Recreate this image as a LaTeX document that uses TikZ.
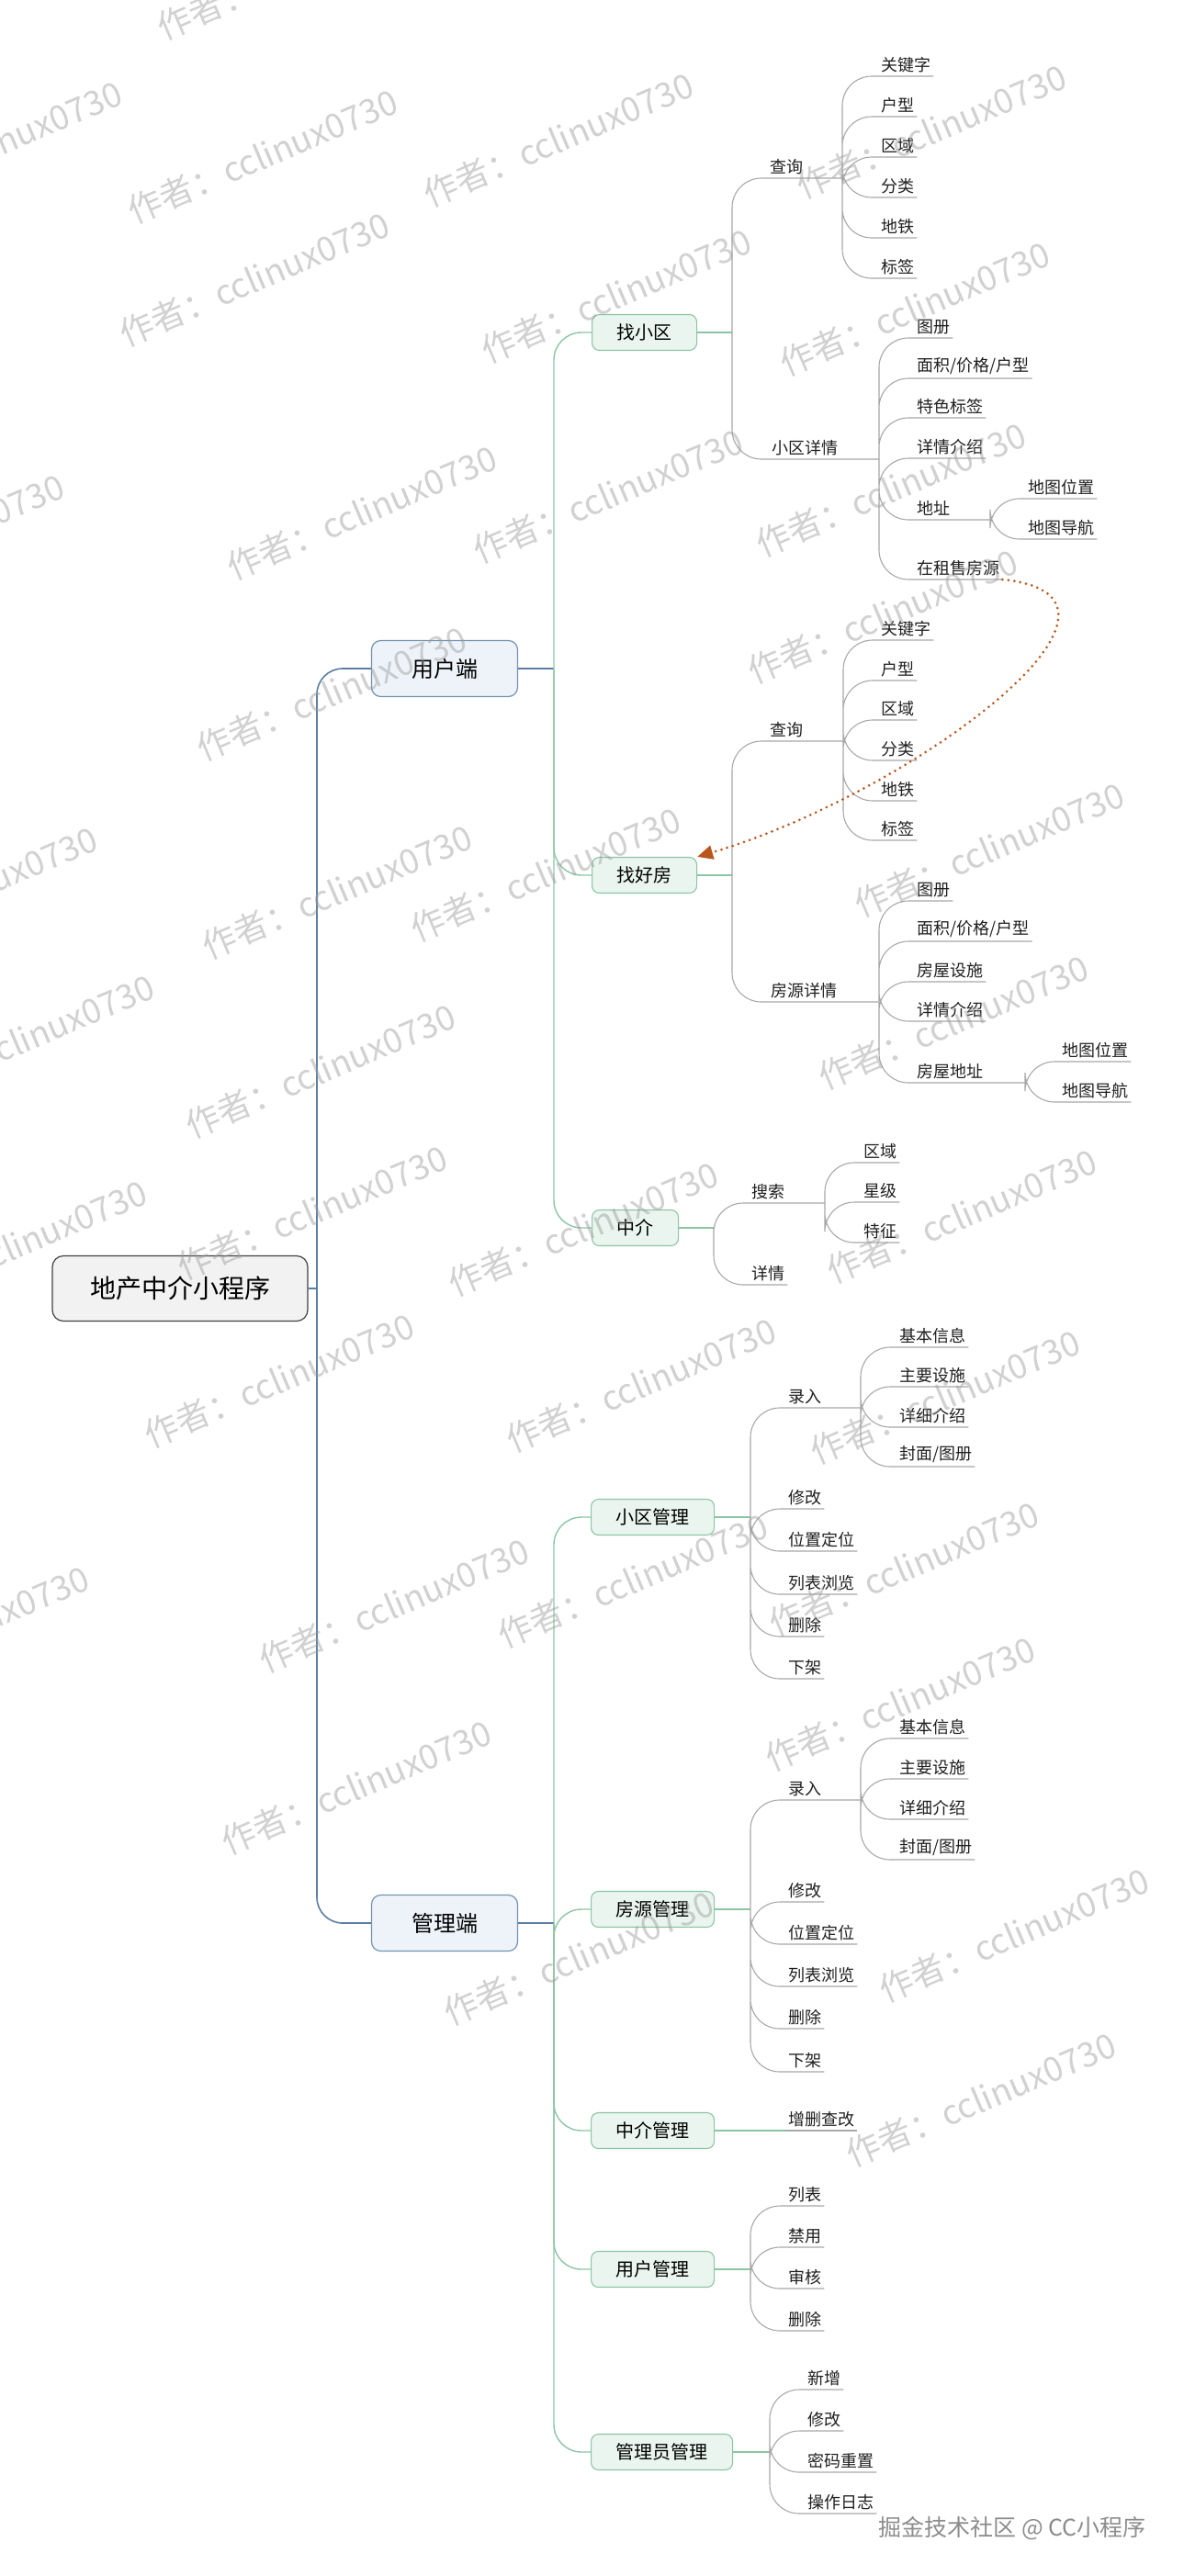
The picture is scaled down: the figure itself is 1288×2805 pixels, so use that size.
\documentclass[tikz,border=0pt]{standalone}
\usepackage{fontspec}
\setmainfont{Noto Sans CJK SC}
\usepackage{tikz}
\usetikzlibrary{arrows.meta, positioning}
\definecolor{trunkblue}{HTML}{5B7FA3}
\definecolor{boxblue}{HTML}{EEF3F9}
\definecolor{branchgreen}{HTML}{8CC5A4}
\definecolor{boxgreen}{HTML}{E9F5EE}
\definecolor{twiggray}{HTML}{A8A8A8}
\definecolor{linkorange}{HTML}{B9561B}
\definecolor{markgray}{HTML}{9A9A9A}
\tikzstyle{rootbox} = [rectangle, rounded corners=12pt, draw=black!75, fill=black!5, line width=1.2pt, minimum width=278pt, minimum height=71pt, font=\fontsize{28}{30}\selectfont]
\tikzstyle{mainbox} = [rectangle, rounded corners=10pt, draw=trunkblue!85, fill=boxblue, line width=1.2pt, minimum width=159pt, minimum height=61pt, font=\fontsize{24}{26}\selectfont]
\tikzstyle{subbox} = [rectangle, rounded corners=8pt, draw=branchgreen, fill=boxgreen, line width=1.1pt, minimum height=39pt, inner xsep=27pt, anchor=west, font=\fontsize{20}{22}\selectfont]
\tikzstyle{leaf} = [anchor=south west, inner xsep=3pt, inner ysep=4pt, text=black!88]
\tikzstyle{trunk} = [draw=trunkblue, line width=1.6pt, rounded corners=28pt]
\tikzstyle{branch} = [draw=branchgreen, line width=1.4pt, rounded corners=30pt]
\tikzstyle{twig} = [draw=twiggray, line width=1.1pt, rounded corners=32pt]
\tikzstyle{relation} = [draw=linkorange, line width=3pt, line cap=round, dash pattern=on 0pt off 6.5pt, -{Triangle[length=17pt, width=15pt, fill=linkorange]}]
\tikzstyle{watermark} = [text=markgray, text opacity=0.45, rotate=23, font=\fontsize{37}{39}\selectfont]
\tikzset{
  font={\fontsize{18pt}{20}\selectfont}}

\begin{document}
\begin{tikzpicture}[x=1pt, y=-1pt]
    \useasboundingbox (0,0) rectangle (1288,2805);

    \node (root) [rootbox] at (196,1403) {地产中介小程序};
    \node (user) [mainbox] at (484,728) {用户端};
    \node (admin) [mainbox] at (484,2094) {管理端};
    \coordinate (hub) at (345,1403);
    \draw [trunk] (root.east) -- (hub);
    \draw [trunk] (hub) |- (user.west);
    \draw [trunk] (hub) |- (admin.west);

    \node (findcomm) [subbox] at (644,362) {找小区};
    \node (findhouse) [subbox] at (644,953) {找好房};
    \node (agent) [subbox] at (644,1337) {中介};
    \coordinate (userhub) at (603,728);
    \draw [trunk] (user.east) -- (userhub);
    \draw [branch] (userhub) |- (findcomm.west);
    \draw [branch] (userhub) |- (findhouse.west);
    \draw [branch] (userhub) |- (agent.west);

    % 找小区
    \coordinate (fchub) at (797,362);
    \draw [branch] (findcomm.east) -- (fchub);
    \node (fcquery) [leaf] at (835,194) {查询};
    \node (fcdetail) [leaf] at (837,500) {小区详情};
    \coordinate (fcq) at (917,194);
    \coordinate (fcd) at (957,500);
    \draw [twig] (fchub) |- (fcq);
    \draw [twig] (fchub) |- (fcd);
    \node (fckey) [leaf] at (956,83) {关键字};
    \node (fctype) [leaf] at (956,127) {户型};
    \node (fcarea) [leaf] at (956,171) {区域};
    \node (fccat) [leaf] at (956,215) {分类};
    \node (fcmetro) [leaf] at (956,259) {地铁};
    \node (fctag) [leaf] at (956,303) {标签};
    \draw [twig] (fcq) |- (fckey.south east) (fcq) |- (fctype.south east)
                 (fcq) |- (fcarea.south east) (fcq) |- (fccat.south east)
                 (fcq) |- (fcmetro.south east) (fcq) |- (fctag.south east);
    \node (fcalbum) [leaf] at (995,368) {图册};
    \node (fcsize) [leaf] at (995,412) {面积/价格/户型};
    \node (fcfeature) [leaf] at (995,455) {特色标签};
    \node (fcintro) [leaf] at (995,499) {详情介绍};
    \node (fcaddr) [leaf] at (995,566) {地址};
    \node (fcsale) [leaf] at (995,631) {在租售房源};
    \coordinate (fca) at (1078,566);
    \draw [twig] (fcd) |- (fcalbum.south east) (fcd) |- (fcsize.south east)
                 (fcd) |- (fcfeature.south east) (fcd) |- (fcintro.south east)
                 (fcd) |- (fca) (fcd) |- (fcsale.south east);
    \node (fcmappos) [leaf] at (1116,543) {地图位置};
    \node (fcmapnav) [leaf] at (1116,587) {地图导航};
    \draw [twig] (fca) |- (fcmappos.south east) (fca) |- (fcmapnav.south east);

    % 找好房
    \coordinate (fhhub) at (797,953);
    \draw [branch] (findhouse.east) -- (fhhub);
    \node (fhquery) [leaf] at (835,807) {查询};
    \node (fhdetail) [leaf] at (836,1091) {房源详情};
    \coordinate (fhq) at (918,807);
    \coordinate (fhd) at (957,1091);
    \draw [twig] (fhhub) |- (fhq);
    \draw [twig] (fhhub) |- (fhd);
    \node (fhkey) [leaf] at (956,697) {关键字};
    \node (fhtype) [leaf] at (956,741) {户型};
    \node (fharea) [leaf] at (956,784) {区域};
    \node (fhcat) [leaf] at (956,828) {分类};
    \node (fhmetro) [leaf] at (956,872) {地铁};
    \node (fhtag) [leaf] at (956,915) {标签};
    \draw [twig] (fhq) |- (fhkey.south east) (fhq) |- (fhtype.south east)
                 (fhq) |- (fharea.south east) (fhq) |- (fhcat.south east)
                 (fhq) |- (fhmetro.south east) (fhq) |- (fhtag.south east);
    \node (fhalbum) [leaf] at (995,981) {图册};
    \node (fhsize) [leaf] at (995,1025) {面积/价格/户型};
    \node (fhfacility) [leaf] at (995,1069) {房屋设施};
    \node (fhintro) [leaf] at (995,1112) {详情介绍};
    \node (fhaddr) [leaf] at (995,1179) {房屋地址};
    \coordinate (fha) at (1116,1179);
    \draw [twig] (fhd) |- (fhalbum.south east) (fhd) |- (fhsize.south east)
                 (fhd) |- (fhfacility.south east) (fhd) |- (fhintro.south east)
                 (fhd) |- (fha);
    \node (fhmappos) [leaf] at (1153,1156) {地图位置};
    \node (fhmapnav) [leaf] at (1153,1200) {地图导航};
    \draw [twig] (fha) |- (fhmappos.south east) (fha) |- (fhmapnav.south east);

    \draw [relation] (fcsale.south east) .. controls (1280,650) and (990,865) .. (findhouse.north east);

    % 中介
    \coordinate (aghub) at (777,1337);
    \draw [branch] (agent.east) -- (aghub);
    \node (agsearch) [leaf] at (815,1310) {搜索};
    \node (agdetail) [leaf] at (815,1399) {详情};
    \coordinate (ags) at (898,1310);
    \draw [twig] (aghub) |- (ags) (aghub) |- (agdetail.south east);
    \node (agarea) [leaf] at (937,1266) {区域};
    \node (agstar) [leaf] at (937,1309) {星级};
    \node (agtrait) [leaf] at (937,1353) {特征};
    \draw [twig] (ags) |- (agarea.south east) (ags) |- (agstar.south east)
                 (ags) |- (agtrait.south east);

    % 管理端
    \node (commmgr) [subbox] at (643,1652) {小区管理};
    \node (housemgr) [subbox] at (643,2079) {房源管理};
    \node (agentmgr) [subbox] at (643,2320) {中介管理};
    \node (usermgr) [subbox] at (643,2471) {用户管理};
    \node (adminmgr) [subbox] at (643,2670) {管理员管理};
    \coordinate (adminhub) at (603,2094);
    \draw [trunk] (admin.east) -- (adminhub);
    \draw [branch] (adminhub) |- (commmgr.west);
    \draw [branch] (adminhub) |- (housemgr.west);
    \draw [branch] (adminhub) |- (agentmgr.west);
    \draw [branch] (adminhub) |- (usermgr.west);
    \draw [branch] (adminhub) |- (adminmgr.west);

    % 小区管理
    \coordinate (cmhub) at (817,1652);
    \draw [branch] (commmgr.east) -- (cmhub);
    \node (cmentry) [leaf] at (855,1533) {录入};
    \coordinate (cme) at (937,1533);
    \node (cmbasic) [leaf] at (976,1467) {基本信息};
    \node (cmfacility) [leaf] at (976,1510) {主要设施};
    \node (cmintro) [leaf] at (976,1554) {详细介绍};
    \node (cmcover) [leaf] at (976,1597) {封面/图册};
    \node (cmedit) [leaf] at (855,1643) {修改};
    \node (cmlocate) [leaf] at (855,1689) {位置定位};
    \node (cmlist) [leaf] at (855,1736) {列表浏览};
    \node (cmdelete) [leaf] at (855,1782) {删除};
    \node (cmoff) [leaf] at (855,1828) {下架};
    \draw [twig] (cmhub) |- (cme) (cmhub) |- (cmedit.south east)
                 (cmhub) |- (cmlocate.south east) (cmhub) |- (cmlist.south east)
                 (cmhub) |- (cmdelete.south east) (cmhub) |- (cmoff.south east);
    \draw [twig] (cme) |- (cmbasic.south east) (cme) |- (cmfacility.south east)
                 (cme) |- (cmintro.south east) (cme) |- (cmcover.south east);

    % 房源管理
    \coordinate (hmhub) at (817,2079);
    \draw [branch] (housemgr.east) -- (hmhub);
    \node (hmentry) [leaf] at (855,1960) {录入};
    \coordinate (hme) at (937,1960);
    \node (hmbasic) [leaf] at (976,1893) {基本信息};
    \node (hmfacility) [leaf] at (976,1937) {主要设施};
    \node (hmintro) [leaf] at (976,1981) {详细介绍};
    \node (hmcover) [leaf] at (976,2025) {封面/图册};
    \node (hmedit) [leaf] at (855,2071) {修改};
    \node (hmlocate) [leaf] at (855,2117) {位置定位};
    \node (hmlist) [leaf] at (855,2163) {列表浏览};
    \node (hmdelete) [leaf] at (855,2209) {删除};
    \node (hmoff) [leaf] at (855,2256) {下架};
    \draw [twig] (hmhub) |- (hme) (hmhub) |- (hmedit.south east)
                 (hmhub) |- (hmlocate.south east) (hmhub) |- (hmlist.south east)
                 (hmhub) |- (hmdelete.south east) (hmhub) |- (hmoff.south east);
    \draw [twig] (hme) |- (hmbasic.south east) (hme) |- (hmfacility.south east)
                 (hme) |- (hmintro.south east) (hme) |- (hmcover.south east);

    % 中介管理, 用户管理, 管理员管理
    \node (amcrud) [leaf] at (855,2320) {增删查改};
    \draw [branch] (agentmgr.east) -- (amcrud.south west);
    \draw [twig] (amcrud.south west) -- (amcrud.south east);

    \coordinate (umhub) at (817,2471);
    \draw [branch] (usermgr.east) -- (umhub);
    \node (umlist) [leaf] at (855,2402) {列表};
    \node (umban) [leaf] at (855,2447) {禁用};
    \node (umaudit) [leaf] at (855,2492) {审核};
    \node (umdelete) [leaf] at (855,2538) {删除};
    \draw [twig] (umhub) |- (umlist.south east) (umhub) |- (umban.south east)
                 (umhub) |- (umaudit.south east) (umhub) |- (umdelete.south east);

    \coordinate (adhub) at (838,2670);
    \draw [branch] (adminmgr.east) -- (adhub);
    \node (adnew) [leaf] at (876,2602) {新增};
    \node (adedit) [leaf] at (876,2647) {修改};
    \node (adreset) [leaf] at (876,2692) {密码重置};
    \node (adlog) [leaf] at (876,2737) {操作日志};
    \draw [twig] (adhub) |- (adnew.south east) (adhub) |- (adedit.south east)
                 (adhub) |- (adreset.south east) (adhub) |- (adlog.south east);

    \begin{scope}
    \clip (0,0) rectangle (1288,2805);
    \foreach \wx/\wy [count=\i] in {318/-30, -14/161, 286/170, 608/152, 1014/143,
        277/304, 671/322, 996/336, -77/589, 394/558, 662/540, 970/533,
        361/755, 961/671, -41/973, 367/971, 594/952, 1077/925, 21/1134,
        349/1166, 1038/1113, 13/1358, 340/1320, 635/1338, 1047/1324,
        304/1503, 698/1508, 1029/1521, -50/1778, 429/1748, 689/1721,
        984/1708, 388/1946, 980/1855, 630/2132, 1104/2107, 1068/2286}
        \node (wm-\i) [watermark] at (\wx,\wy) {作者：cclinux0730};
    \end{scope}

    \node (footer) [text=black!45, font=\fontsize{25}{27}\selectfont] at (1102,2753) {掘金技术社区 @ CC小程序};
\end{tikzpicture}
\end{document}
